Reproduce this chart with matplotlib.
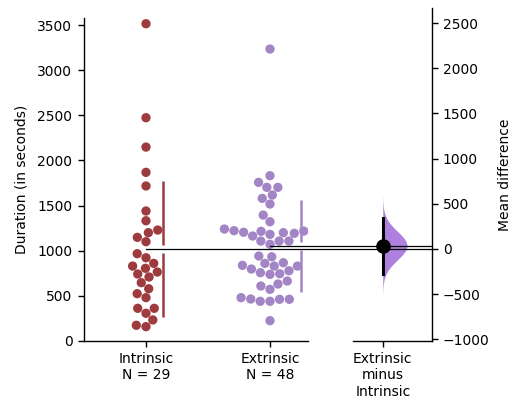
import numpy as np
import matplotlib
matplotlib.use("Agg")
import matplotlib.pyplot as plt
import seaborn as sns
from matplotlib.lines import Line2D

# values (seconds)
intrinsic = [3514, 2473, 2148, 1868, 1717, 1440, 1332, 1200, 1229, 1148,
             1100, 967, 922, 860, 805, 830, 742, 764, 709, 646,
             524, 579, 480, 362, 362, 307, 233, 174, 159]
extrinsic = [3234, 1831, 1757, 1702, 1702, 1617, 1580, 1517, 1395, 1321,
             1240, 1222, 1200, 1163, 1215, 1181, 1204, 1193, 1218, 1229, 1255,
             1107, 1071, 1107, 1107,
             941, 933, 860, 838, 797, 830, 757, 738, 745, 778, 830, 867,
             664, 609, 572, 631,
             480, 462, 440, 440, 462, 465, 225]
groups = ["Intrinsic", "Extrinsic"]
colors = ["#9e3b3f", "#a385c6"]
violin_color = "#b080e0"
right_ticks = [-1000, -500, 0, 500, 1000, 1500, 2000, 2500]
left_ticks = [0, 500, 1000, 1500, 2000, 2500, 3000, 3500]

data = [np.array(intrinsic, float), np.array(extrinsic, float)]
means = [d.mean() for d in data]
sds = [d.std(ddof=1) for d in data]
diff = means[1] - means[0]
se = np.sqrt(sds[0]**2 / len(data[0]) + sds[1]**2 / len(data[1]))

W, H = 511, 403
fig = plt.figure(figsize=(W / 100, H / 100), dpi=100)
plt.rcParams['font.size'] = 10
pxu = 316 / 3500.0  # pixels per unit

ax = fig.add_axes([83.5 / W, (H - 341) / H, 224.8 / W, 323 / H])
ax2 = fig.add_axes([353.3 / W, (H - 341) / H, 78.4 / W, 333 / H])

ys = np.concatenate(data)
labs = np.array([groups[0]] * len(data[0]) + [groups[1]] * len(data[1]))
sns.swarmplot(x=labs, y=ys, hue=labs, order=groups, palette=colors, size=6.7,
              ax=ax, legend=False, linewidth=0)

ax.set_ylim(0, 323 / pxu)
ax.set_xlim(-0.504, 1.309)
gap = 4 / pxu
for i, (m, s) in enumerate(zip(means, sds)):
    xo = [0.137, 1.25][i]
    ax.plot([xo, xo], [m - s, m - gap], color=colors[i], lw=1.8, solid_capstyle='butt')
    ax.plot([xo, xo], [m + gap, m + s], color=colors[i], lw=1.8, solid_capstyle='butt')

ax.set_xticks([0, 1])
ax.set_xticklabels(["Intrinsic\nN = %d" % len(data[0]), "Extrinsic\nN = %d" % len(data[1])])
ax.set_yticks(left_ticks)
ax.set_ylabel("Duration (in seconds)", labelpad=6)
ax.spines['top'].set_visible(False)
ax.spines['right'].set_visible(False)
ax.set_xlabel("")

# contrast axes
ax2.set_ylim(-means[0], -means[0] + 333 / pxu)
ax2.set_xlim(-0.5, 0.83)
yy = np.linspace(diff - 3.6 * se, diff + 3.6 * se, 300)
dens = np.exp(-0.5 * ((yy - diff) / se) ** 2)
ax2.fill_betweenx(yy, 0, dens * 0.41, color=violin_color, lw=0)
ax2.plot([0, 0], [diff - 1.96 * se, diff + 1.96 * se], color='k', lw=2.2)
ax2.plot([0], [diff], 'o', color='k', ms=9.5)
ax2.set_xticks([0])
ax2.set_xticklabels(["Extrinsic\nminus\nIntrinsic"])
ax2.set_yticks(right_ticks)
ax2.yaxis.tick_right()
ax2.yaxis.set_label_position("right")
ax2.set_ylabel("Mean difference", labelpad=6)
ax2.spines['top'].set_visible(False)
ax2.spines['left'].set_visible(False)

for a in (ax, ax2):
    for sp in a.spines.values():
        sp.set_linewidth(1.0)
    a.tick_params(width=1.0, length=4.5)

# mean lines running from the groups to the contrast axes
inv = fig.transFigure.inverted()
xr = inv.transform(ax2.transAxes.transform((1, 0)))[0]
for i, xo in enumerate([0, 1]):
    p = inv.transform(ax.transData.transform((xo, means[i])))
    fig.add_artist(Line2D([p[0], xr], [p[1], p[1]], color='k', lw=0.9))

fig.savefig("out.png", dpi=100)
